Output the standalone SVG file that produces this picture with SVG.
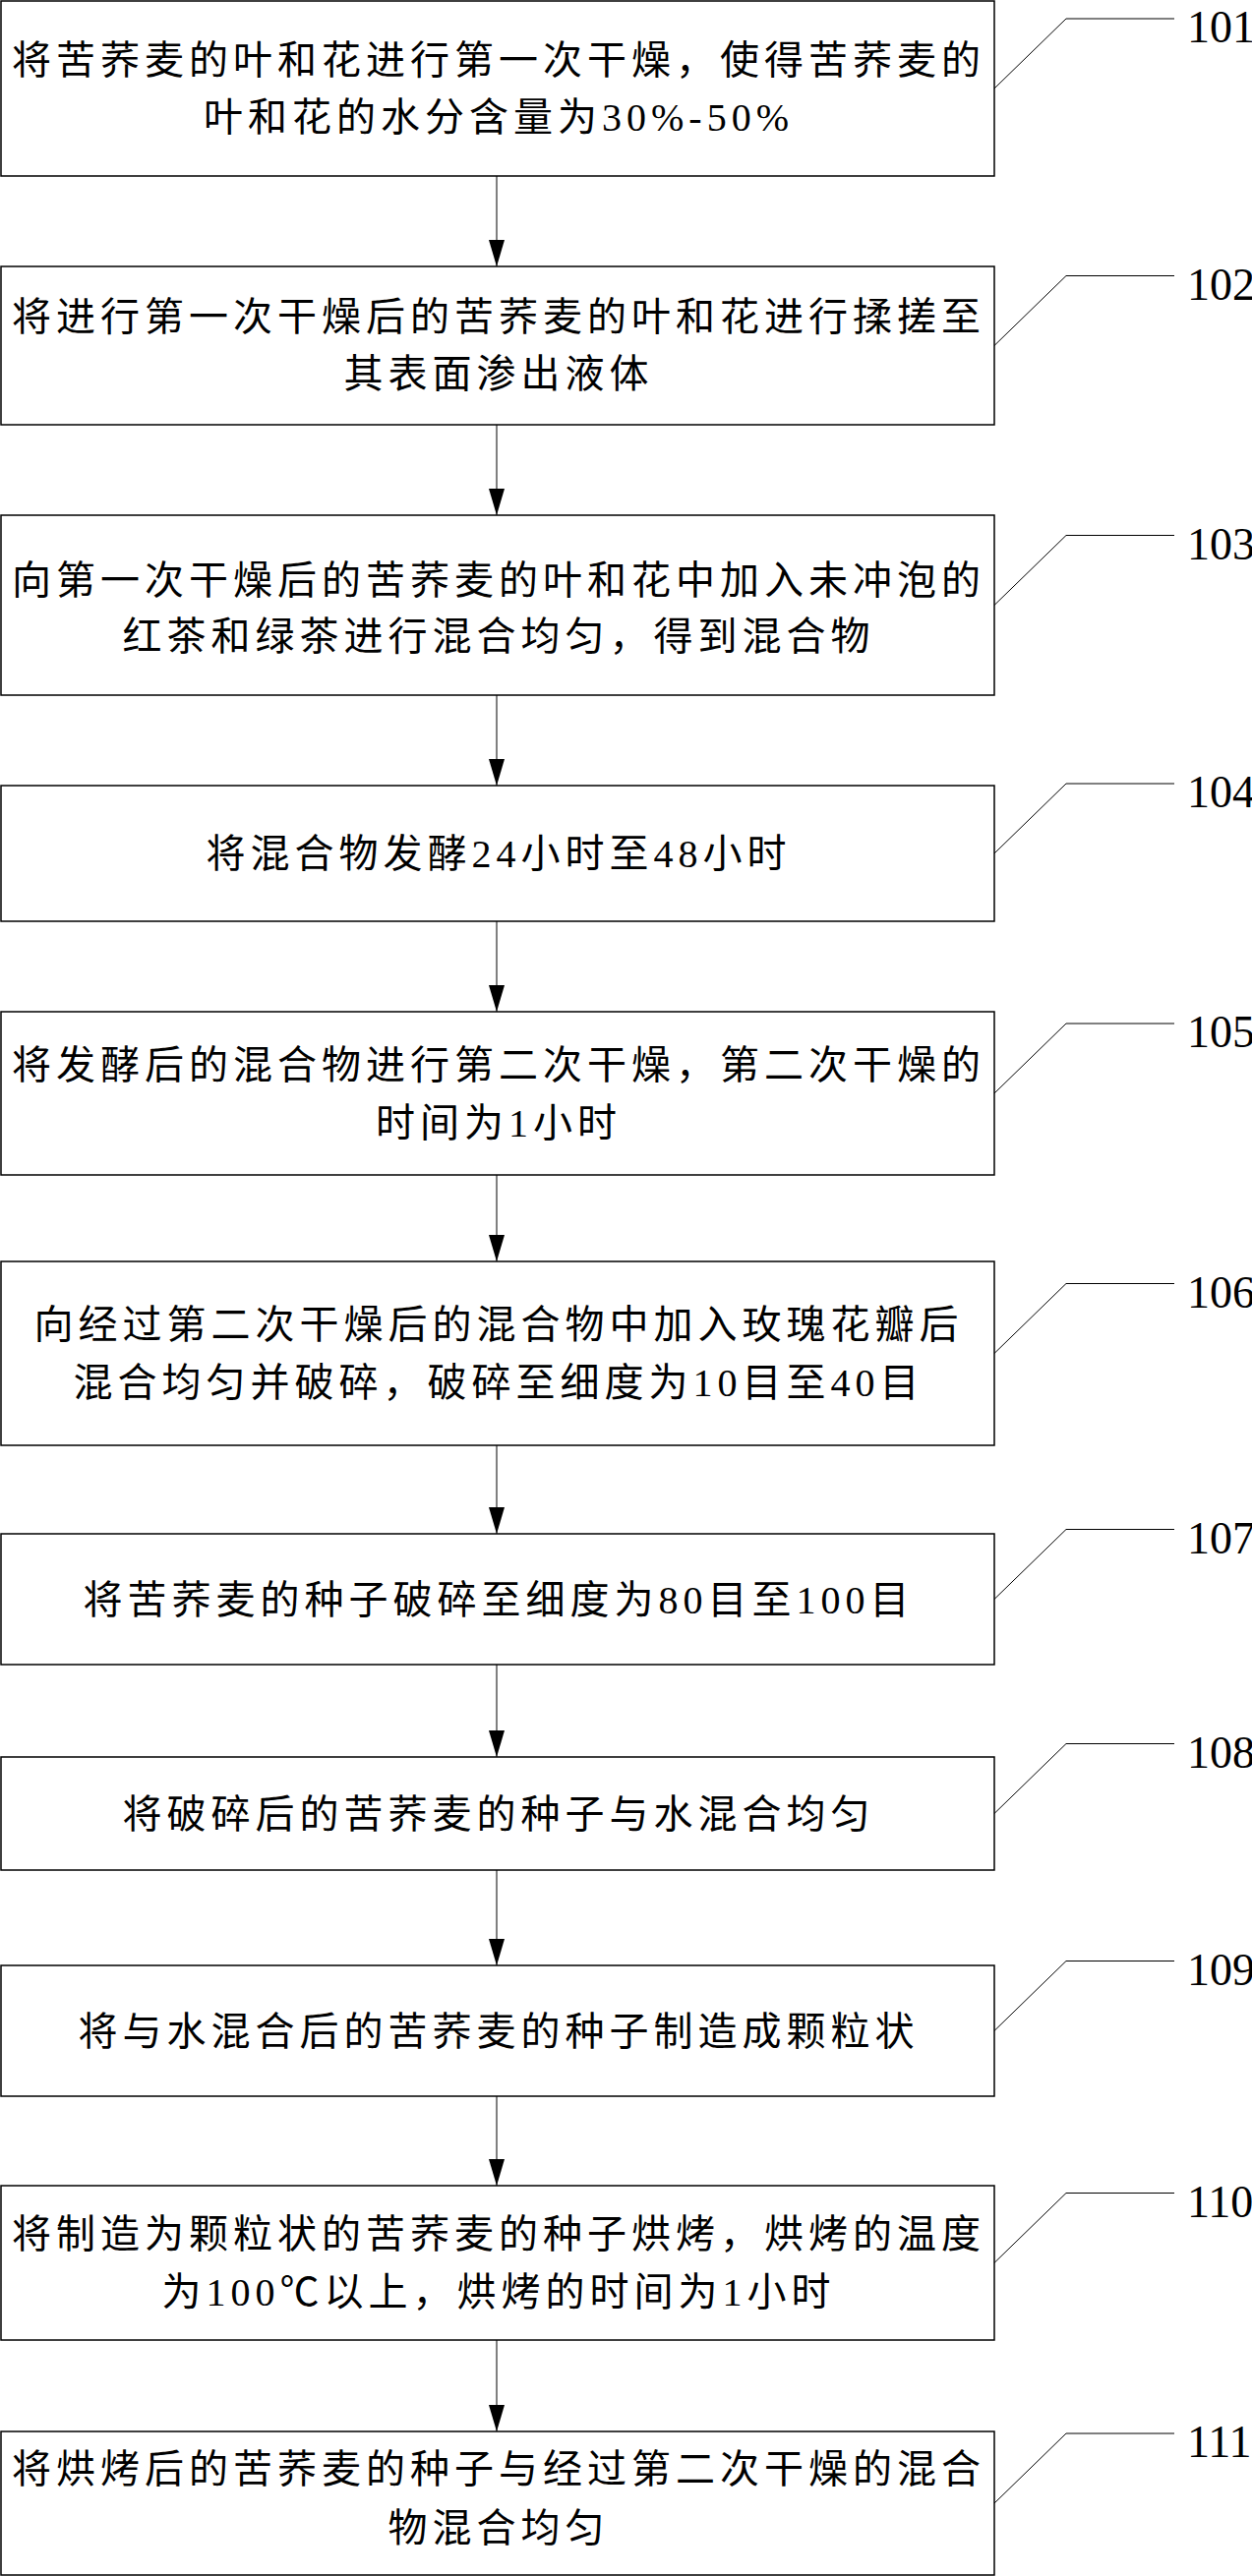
<svg xmlns="http://www.w3.org/2000/svg" width="1273" height="2620" viewBox="0 0 1273 2620">
<defs>
<style>
.box{fill:#fff;stroke:#000;stroke-width:1.5}
.t{font-family:"Liberation Serif","Noto Sans CJK SC",serif;font-size:40px;letter-spacing:5px;text-anchor:middle;dominant-baseline:central;fill:#000}
.lbl{font-family:"Liberation Serif",serif;font-size:46px;fill:#000}
.call{fill:none;stroke:#000;stroke-width:1}
.conn{stroke:#000;stroke-width:1;fill:none}
</style>
<marker id="ah" markerWidth="27" markerHeight="16" refX="27" refY="8" orient="auto" markerUnits="userSpaceOnUse" viewBox="0 0 27 16">
<path d="M0,0 L27,8 L0,16 Z" fill="#000"/>
</marker>
</defs>
<rect width="1273" height="2620" fill="#fff"/>
<g id="connectors">
<line class="conn" x1="505" y1="179" x2="505" y2="271" marker-end="url(#ah)"/>
<line class="conn" x1="505" y1="432" x2="505" y2="524" marker-end="url(#ah)"/>
<line class="conn" x1="505" y1="707" x2="505" y2="799" marker-end="url(#ah)"/>
<line class="conn" x1="505" y1="937" x2="505" y2="1029" marker-end="url(#ah)"/>
<line class="conn" x1="505" y1="1195" x2="505" y2="1283" marker-end="url(#ah)"/>
<line class="conn" x1="505" y1="1470" x2="505" y2="1560" marker-end="url(#ah)"/>
<line class="conn" x1="505" y1="1693" x2="505" y2="1787" marker-end="url(#ah)"/>
<line class="conn" x1="505" y1="1902" x2="505" y2="1999" marker-end="url(#ah)"/>
<line class="conn" x1="505" y1="2132" x2="505" y2="2223" marker-end="url(#ah)"/>
<line class="conn" x1="505" y1="2380" x2="505" y2="2473" marker-end="url(#ah)"/>
</g>
<g id="n101">
<rect class="box" x="1" y="1" width="1010" height="178"/>
<text class="t" x="507" y="61">将苦荞麦的叶和花进行第一次干燥，使得苦荞麦的</text>
<text class="t" x="507" y="119">叶和花的水分含量为30%-50%</text>
<polyline class="call" points="1011,90 1084,19 1194,19"/>
<text class="lbl" x="1207" y="43">101</text>
</g>
<g id="n102">
<rect class="box" x="1" y="271" width="1010" height="161"/>
<text class="t" x="507" y="322">将进行第一次干燥后的苦荞麦的叶和花进行揉搓至</text>
<text class="t" x="507" y="380">其表面渗出液体</text>
<polyline class="call" points="1011,351.5 1084,280.5 1194,280.5"/>
<text class="lbl" x="1207" y="304.5">102</text>
</g>
<g id="n103">
<rect class="box" x="1" y="524" width="1010" height="183"/>
<text class="t" x="507" y="590">向第一次干燥后的苦荞麦的叶和花中加入未冲泡的</text>
<text class="t" x="507" y="647">红茶和绿茶进行混合均匀，得到混合物</text>
<polyline class="call" points="1011,615.5 1084,544.5 1194,544.5"/>
<text class="lbl" x="1207" y="568.5">103</text>
</g>
<g id="n104">
<rect class="box" x="1" y="799" width="1010" height="138"/>
<text class="t" x="507" y="868">将混合物发酵24小时至48小时</text>
<polyline class="call" points="1011,868 1084,797 1194,797"/>
<text class="lbl" x="1207" y="821">104</text>
</g>
<g id="n105">
<rect class="box" x="1" y="1029" width="1010" height="166"/>
<text class="t" x="507" y="1083">将发酵后的混合物进行第二次干燥，第二次干燥的</text>
<text class="t" x="507" y="1142">时间为1小时</text>
<polyline class="call" points="1011,1112 1084,1041 1194,1041"/>
<text class="lbl" x="1207" y="1065">105</text>
</g>
<g id="n106">
<rect class="box" x="1" y="1283" width="1010" height="187"/>
<text class="t" x="507" y="1347">向经过第二次干燥后的混合物中加入玫瑰花瓣后</text>
<text class="t" x="507" y="1406">混合均匀并破碎，破碎至细度为10目至40目</text>
<polyline class="call" points="1011,1376.5 1084,1305.5 1194,1305.5"/>
<text class="lbl" x="1207" y="1329.5">106</text>
</g>
<g id="n107">
<rect class="box" x="1" y="1560" width="1010" height="133"/>
<text class="t" x="507" y="1627">将苦荞麦的种子破碎至细度为80目至100目</text>
<polyline class="call" points="1011,1626.5 1084,1555.5 1194,1555.5"/>
<text class="lbl" x="1207" y="1579.5">107</text>
</g>
<g id="n108">
<rect class="box" x="1" y="1787" width="1010" height="115"/>
<text class="t" x="507" y="1845">将破碎后的苦荞麦的种子与水混合均匀</text>
<polyline class="call" points="1011,1844.5 1084,1773.5 1194,1773.5"/>
<text class="lbl" x="1207" y="1797.5">108</text>
</g>
<g id="n109">
<rect class="box" x="1" y="1999" width="1010" height="133"/>
<text class="t" x="507" y="2066">将与水混合后的苦荞麦的种子制造成颗粒状</text>
<polyline class="call" points="1011,2065.5 1084,1994.5 1194,1994.5"/>
<text class="lbl" x="1207" y="2018.5">109</text>
</g>
<g id="n110">
<rect class="box" x="1" y="2223" width="1010" height="157"/>
<text class="t" x="507" y="2272">将制造为颗粒状的苦荞麦的种子烘烤，烘烤的温度</text>
<text class="t" x="507" y="2331">为100℃以上，烘烤的时间为1小时</text>
<polyline class="call" points="1011,2301.5 1084,2230.5 1194,2230.5"/>
<text class="lbl" x="1207" y="2254.5">110</text>
</g>
<g id="n111">
<rect class="box" x="1" y="2473" width="1010" height="146"/>
<text class="t" x="507" y="2511">将烘烤后的苦荞麦的种子与经过第二次干燥的混合</text>
<text class="t" x="507" y="2571">物混合均匀</text>
<polyline class="call" points="1011,2546 1084,2475 1194,2475"/>
<text class="lbl" x="1207" y="2499">111</text>
</g>
</svg>
